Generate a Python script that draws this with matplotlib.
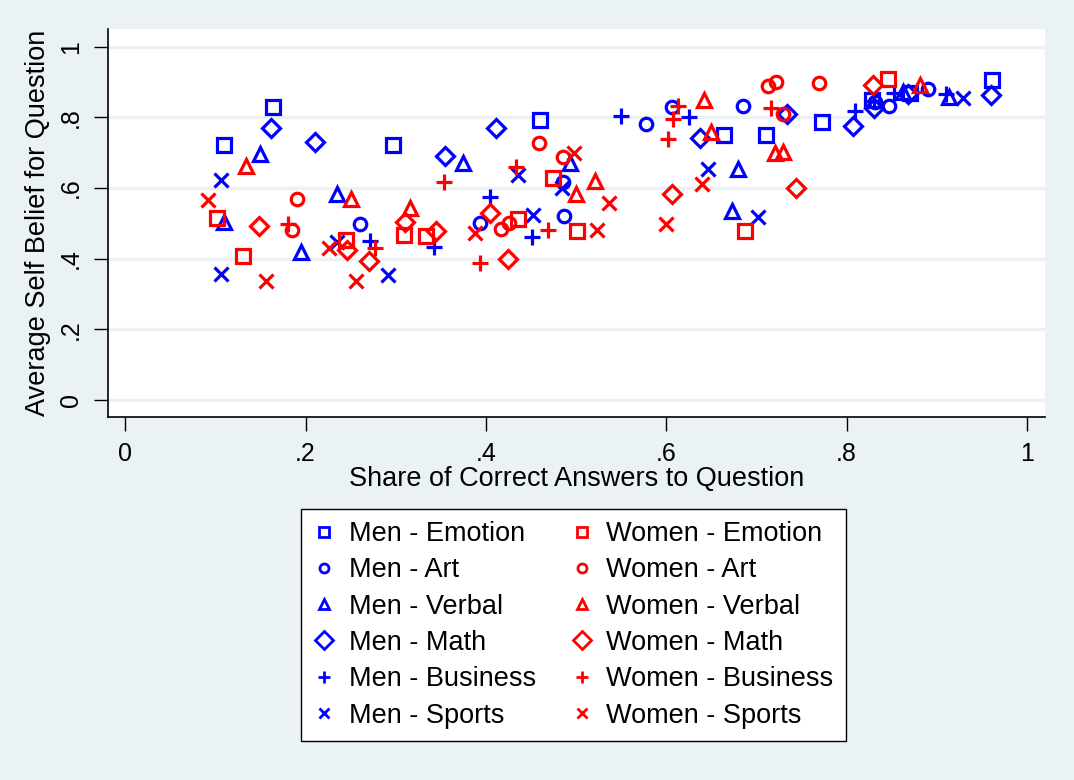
import matplotlib

matplotlib.use("Agg")
matplotlib.rcParams["font.family"] = ["Liberation Sans", "DejaVu Sans"]

import matplotlib.pyplot as plt

# share of correct answers (x) and average self belief (y), per group
men_emotion_x = [0.164, 0.110, 0.297, 0.460, 0.664, 0.711, 0.773, 0.828, 0.870, 0.961]
men_emotion_y = [0.830, 0.722, 0.722, 0.793, 0.750, 0.750, 0.786, 0.849, 0.868, 0.907]
women_emotion_x = [0.102, 0.131, 0.245, 0.309, 0.334, 0.436, 0.474, 0.501, 0.687, 0.846]
women_emotion_y = [0.514, 0.408, 0.453, 0.467, 0.464, 0.511, 0.629, 0.478, 0.478, 0.909]

men_art_x = [0.260, 0.394, 0.486, 0.487, 0.578, 0.606, 0.685, 0.832, 0.847, 0.890]
men_art_y = [0.498, 0.500, 0.618, 0.522, 0.781, 0.828, 0.832, 0.843, 0.832, 0.880]
women_art_x = [0.190, 0.185, 0.417, 0.426, 0.459, 0.486, 0.713, 0.722, 0.769, 0.730]
women_art_y = [0.569, 0.481, 0.483, 0.500, 0.727, 0.689, 0.889, 0.901, 0.896, 0.810]

men_verbal_x = [0.149, 0.110, 0.195, 0.235, 0.375, 0.493, 0.680, 0.673, 0.863, 0.914]
men_verbal_y = [0.695, 0.505, 0.420, 0.582, 0.670, 0.670, 0.653, 0.535, 0.873, 0.858]
women_verbal_x = [0.134, 0.250, 0.316, 0.500, 0.521, 0.642, 0.650, 0.721, 0.730, 0.881]
women_verbal_y = [0.663, 0.569, 0.543, 0.583, 0.620, 0.849, 0.759, 0.698, 0.701, 0.892]

men_math_x = [0.162, 0.210, 0.355, 0.411, 0.637, 0.734, 0.807, 0.830, 0.868, 0.960]
men_math_y = [0.771, 0.729, 0.692, 0.769, 0.741, 0.809, 0.776, 0.826, 0.866, 0.863]
women_math_x = [0.148, 0.246, 0.270, 0.310, 0.345, 0.404, 0.424, 0.606, 0.744, 0.829]
women_math_y = [0.492, 0.426, 0.394, 0.505, 0.479, 0.528, 0.398, 0.583, 0.599, 0.892]

men_business_x = [0.272, 0.342, 0.405, 0.451, 0.550, 0.625, 0.809, 0.830, 0.852, 0.910]
men_business_y = [0.451, 0.434, 0.576, 0.460, 0.805, 0.800, 0.819, 0.845, 0.870, 0.866]
women_business_x = [0.181, 0.277, 0.353, 0.433, 0.394, 0.469, 0.602, 0.608, 0.613, 0.716]
women_business_y = [0.498, 0.429, 0.616, 0.660, 0.387, 0.481, 0.738, 0.795, 0.832, 0.826]

men_sports_x = [0.106, 0.106, 0.235, 0.291, 0.436, 0.452, 0.484, 0.646, 0.702, 0.929]
men_sports_y = [0.622, 0.358, 0.448, 0.354, 0.637, 0.524, 0.599, 0.654, 0.519, 0.854]
women_sports_x = [0.092, 0.156, 0.226, 0.256, 0.388, 0.498, 0.523, 0.536, 0.600, 0.640]
women_sports_y = [0.565, 0.337, 0.429, 0.338, 0.472, 0.700, 0.481, 0.558, 0.498, 0.611]

categories = ["Emotion", "Art", "Verbal", "Math", "Business", "Sports"]
men = [
    (men_emotion_x, men_emotion_y), (men_art_x, men_art_y),
    (men_verbal_x, men_verbal_y), (men_math_x, men_math_y),
    (men_business_x, men_business_y), (men_sports_x, men_sports_y),
]
women = [
    (women_emotion_x, women_emotion_y), (women_art_x, women_art_y),
    (women_verbal_x, women_verbal_y), (women_math_x, women_math_y),
    (women_business_x, women_business_y), (women_sports_x, women_sports_y),
]

# marker, size, legend size
markers = {"Emotion": ("s", 10, 7), "Art": ("o", 9, 6.5), "Verbal": ("^", 10, 7),
           "Math": ("D", 9.5, 9), "Business": ("+", 11, 8), "Sports": ("x", 10, 7)}

bg = "#EAF2F3"
fig = plt.figure(figsize=(10.74, 7.80), dpi=100, facecolor=bg)
ax = fig.add_axes([0.1006, 0.4654, 0.8724, 0.4974])
ax.set_facecolor("white")

handles = []
for group, data, color in (("Men", men, "#0000FF"), ("Women", women, "#FF0000")):
    for cat, (xs, ys) in zip(categories, data):
        m, ms, lms = markers[cat]
        ax.plot(xs, ys, linestyle="none", marker=m, markersize=ms,
                markerfacecolor="none", markeredgecolor=color,
                markeredgewidth=2.3, zorder=3)
        h, = ax.plot([], [], linestyle="none", marker=m, markersize=lms,
                     markerfacecolor="none", markeredgecolor=color,
                     markeredgewidth=2.0, label=f"{group} - {cat}")
        handles.append(h)

ax.set_xlim(-0.019, 1.02)
ax.set_ylim(-0.048, 1.05)

ticks = [0, 0.2, 0.4, 0.6, 0.8, 1.0]
labels = ["0", ".2", ".4", ".6", ".8", "1"]
ax.set_xticks(ticks)
ax.set_xticklabels(labels, fontsize=18)
ax.set_yticks(ticks)
ax.set_yticklabels(labels, fontsize=18, rotation=90, va="center")
ax.tick_params(direction="out", length=10, width=1, color="black", pad=8)

ax.grid(axis="y", color=bg, linewidth=2.5)
ax.set_axisbelow(True)
for side in ("top", "right"):
    ax.spines[side].set_visible(False)
for side in ("left", "bottom"):
    ax.spines[side].set_linewidth(1.2)

ax.set_xlabel("Share of Correct Answers to Question", fontsize=19.5, labelpad=0)
ax.set_ylabel("Average Self Belief for Question", fontsize=19.5, labelpad=6)

leg = fig.legend(handles=handles, ncol=2, loc="center",
                 bbox_to_anchor=(0.534, 0.199), fontsize=19.5,
                 frameon=True, fancybox=False, edgecolor="black",
                 framealpha=1, handletextpad=0.5, columnspacing=1.3,
                 labelspacing=0.38, handlelength=0.8, borderpad=0.45,
                 borderaxespad=0)
leg.get_frame().set_linewidth(1.0)

fig.savefig("out.png", dpi=100, facecolor=bg)
